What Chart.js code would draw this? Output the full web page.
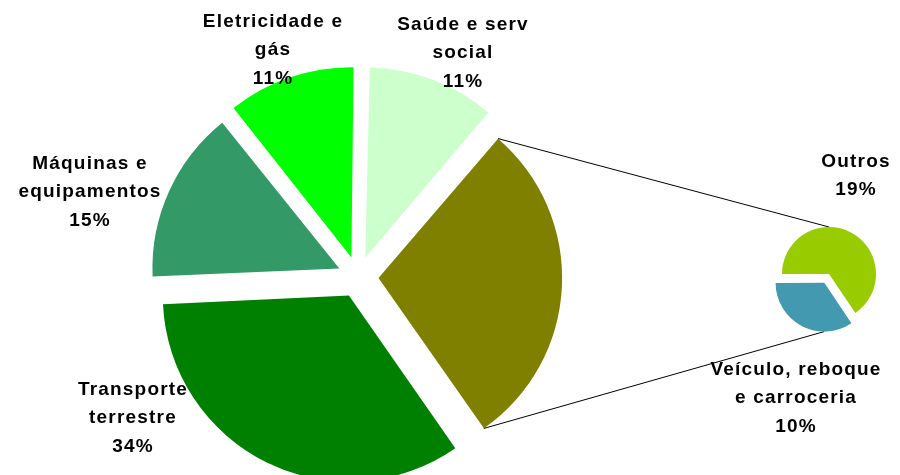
<!DOCTYPE html>
<html>
<head>
<meta charset="utf-8">
<script src="https://cdn.jsdelivr.net/npm/chart.js@4.4.1/dist/chart.umd.min.js"></script>
<style>
  html, body { margin: 0; padding: 0; background: #fff; }
  #wrap { position: relative; width: 900px; height: 475px; overflow: hidden; }
  #wrap canvas { position: absolute; left: 0; top: 0; }
</style>
</head>
<body>
<div id="wrap">
  <canvas id="mainPie" width="900" height="475"></canvas>
  <canvas id="subPie" width="900" height="475"></canvas>
</div>
<script>
// categorias do grafico secundario (detalhe de "Outros")
const subLabels = [['Outros'], ['Veículo, reboque', 'e carroceria']];
const subValues = [19, 10];
const subColors = ['#99CC00', '#4299B0'];

// categorias do grafico principal; a fatia 1 agrega o grafico secundario
const mainLabels = [['Saúde e serv', 'social'], null, ['Transporte', 'terrestre'], ['Máquinas e', 'equipamentos'], ['Eletricidade e', 'gás']];
const mainValues = [11, subValues[0] + subValues[1], 34, 15, 11];
const mainColors = ['#CCFFCC', '#808000', '#008000', '#339966', '#00FF00'];

const total = mainValues.reduce((a, b) => a + b, 0);

// deslocamento de cada bloco de texto em relacao ao centro da pizza
const mainLabelPos = [[105, -224], null, [-225, 141], [-268, -85], [-85, -227]];
const subLabelPos = [[27, -98], [-33, 124]];

const labelFont = 'bold 19px "Liberation Sans", Arial, sans-serif';
const lineH = 28.5;

function drawLabels(chart, names, values, pos) {
    const ctx = chart.ctx;
    const meta = chart.getDatasetMeta(0);
    ctx.save();
    ctx.font = labelFont;
    ctx.letterSpacing = '1.2px';
    ctx.fillStyle = '#000';
    ctx.textAlign = 'center';
    ctx.textBaseline = 'middle';
    meta.data.forEach((arc, i) => {
        if (!names[i] || !pos[i]) return;
        const lines = names[i].concat([Math.round(values[i] / total * 100) + '%']);
        const cx = arc.x + pos[i][0];
        const cy = arc.y + pos[i][1];
        const y0 = cy - (lines.length - 1) * lineH / 2;
        lines.forEach((t, k) => ctx.fillText(t, cx, y0 + k * lineH));
    });
    ctx.restore();
}

// posicao real (com explosao) de uma fatia
function arcGeom(arc) {
    const off = (arc.options.offset || 0) / 4;
    const mid = (arc.startAngle + arc.endAngle) / 2;
    const circ = arc.endAngle - arc.startAngle;
    return {
        x: arc.x + Math.cos(mid) * off,
        y: arc.y + Math.sin(mid) * off,
        r: arc.outerRadius + off * (1 - Math.sin(Math.min(Math.PI, circ)))
    };
}

const mainChart = new Chart(document.getElementById('mainPie').getContext('2d'), {
    type: 'pie',
    data: {
        labels: mainLabels.map(l => l ? l.join(' ') : 'Outros'),
        datasets: [{
            data: mainValues,
            backgroundColor: mainColors,
            borderWidth: 0,
            offset: 82
        }]
    },
    options: {
        responsive: false,
        animation: false,
        events: [],
        rotation: 1,
        radius: 183,
        layout: { padding: { left: 0, right: 184, top: 79, bottom: 0 } },
        plugins: { legend: { display: false }, tooltip: { enabled: false } }
    },
    plugins: [{
        id: 'mainLabels',
        afterDatasetsDraw(chart) { drawLabels(chart, mainLabels, mainValues, mainLabelPos); }
    }]
});

const subChart = new Chart(document.getElementById('subPie').getContext('2d'), {
    type: 'pie',
    data: {
        labels: subLabels.map(l => l.join(' ')),
        datasets: [{
            data: subValues,
            backgroundColor: subColors,
            borderWidth: 0,
            offset: [0, 40]
        }]
    },
    options: {
        responsive: false,
        animation: false,
        events: [],
        rotation: -90,
        radius: 47,
        layout: { padding: { left: 758, right: 0, top: 73, bottom: 0 } },
        plugins: { legend: { display: false }, tooltip: { enabled: false } }
    },
    plugins: [{
        id: 'connectors',
        beforeDatasetsDraw(chart) {
            const big = mainChart.getDatasetMeta(0).data[1];
            const g = arcGeom(big);
            const subArcs = chart.getDatasetMeta(0).data;
            const top = arcGeom(subArcs[0]);
            const bot = arcGeom(subArcs[1]);
            const ctx = chart.ctx;
            ctx.save();
            ctx.strokeStyle = '#000';
            ctx.lineWidth = 1;
            ctx.beginPath();
            ctx.moveTo(g.x + g.r * Math.cos(big.startAngle), g.y + g.r * Math.sin(big.startAngle));
            ctx.lineTo(top.x, top.y - top.r);
            ctx.moveTo(g.x + g.r * Math.cos(big.endAngle), g.y + g.r * Math.sin(big.endAngle));
            ctx.lineTo(bot.x, bot.y + bot.r);
            ctx.stroke();
            ctx.restore();
        },
        afterDatasetsDraw(chart) {
            drawLabels(chart, subLabels, subValues, subLabelPos);
        }
    }]
});
</script>
</body>
</html>
